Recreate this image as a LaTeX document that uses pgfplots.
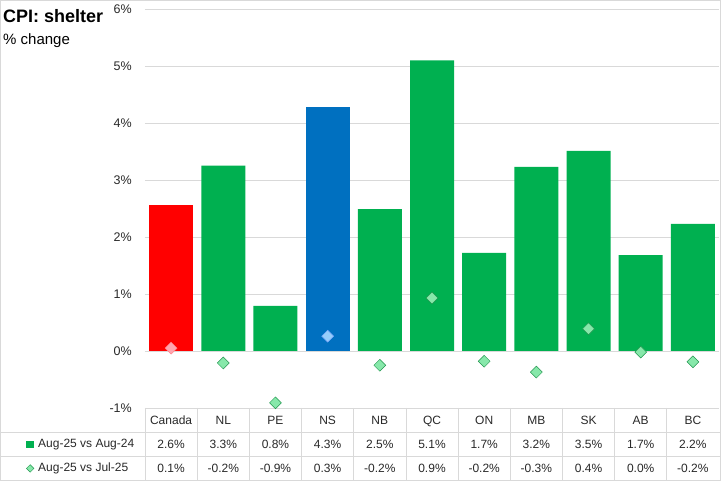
\documentclass[border=0pt]{standalone}
\usepackage{fontspec}
\setmainfont{Liberation Sans}
\usepackage{pgfplots}
\pgfplotsset{compat=1.18}

\definecolor{xlgreen}{RGB}{0,176,80}
\definecolor{xlblue}{RGB}{0,112,192}
\definecolor{xlred}{RGB}{255,0,0}
\definecolor{gridgray}{RGB}{217,217,217}
\definecolor{dmfill}{RGB}{135,232,170}
\definecolor{dmedge}{RGB}{35,150,80}
\definecolor{dmpink}{RGB}{255,165,175}
\definecolor{dmblue}{RGB}{150,205,250}
\definecolor{txt}{RGB}{40,40,40}

\begin{document}
\begin{tikzpicture}[x=1pt,y=1pt]
\useasboundingbox (0,0) rectangle (721,481);
\begin{axis}[
    at={(145pt,73pt)}, anchor=south west,
    scale only axis, width=574pt, height=399pt,
    xmin=-0.5, xmax=10.5, ymin=-1, ymax=6,
    clip=false,
    axis line style={draw=none},
    tick style={draw=none},
    ymajorgrids, grid style={gridgray, line width=0.75pt},
    ytick={-1,0,...,6},
    yticklabels={-1\%,0\%,1\%,2\%,3\%,4\%,5\%,6\%},
    yticklabel style={inner sep=0pt, anchor=east, xshift=-13pt,
        font=\fontsize{12.5}{14}\selectfont, text=txt},
    xtick={0,...,10},
    xticklabels={{Canada\\2.6\%\\0.1\%},{NL\\3.3\%\\-0.2\%},{PE\\0.8\%\\-0.9\%},
        {NS\\4.3\%\\0.3\%},{NB\\2.5\%\\-0.2\%},{QC\\5.1\%\\0.9\%},
        {ON\\1.7\%\\-0.2\%},{MB\\3.2\%\\-0.3\%},{SK\\3.5\%\\0.4\%},
        {AB\\1.7\%\\0.0\%},{BC\\2.2\%\\-0.2\%}},
    xticklabel style={align=center, inner sep=0pt, anchor=north, yshift=-7.6pt,
        font=\fontsize{12}{24}\selectfont, text=txt},
    legend style={at={(axis description cs:-0.2073,-0.0769)}, anchor=north west,
        draw=none, fill=none, inner sep=0pt, row sep=12.9pt, column sep=4pt,
        font=\fontsize{12}{14}\selectfont, text=txt,
        nodes={inner sep=0pt, text height=8.6pt, text depth=2.5pt},
        cells={anchor=west}},
]
% Aug-25 vs Aug-24
\addplot[ybar, bar width=44pt, bar shift=0pt, fill=xlgreen, draw=none,
    legend image code/.code={\fill[xlgreen] (0pt,-3.7pt) rectangle (7.5pt,3.7pt);}]
    coordinates {(1,3.25) (2,0.79) (4,2.49) (5,5.10) (6,1.72) (7,3.23) (8,3.51) (9,1.68) (10,2.23)};
\addlegendentry{Aug-25 vs Aug-24}
\addplot[ybar, bar width=44pt, bar shift=0pt, fill=xlred, draw=none, forget plot]
    coordinates {(0,2.56)};
\addplot[ybar, bar width=44pt, bar shift=0pt, fill=xlblue, draw=none, forget plot]
    coordinates {(3,4.28)};
% Aug-25 vs Jul-25
\addplot[only marks, mark=square*, mark size=4.2pt,
    mark options={rotate=45, fill=dmfill, draw=dmedge, line width=0.5pt},
    legend image code/.code={\fill[dmfill, draw=dmedge, line width=0.5pt]
        (0pt,0pt) -- (3.75pt,3.75pt) -- (7.5pt,0pt) -- (3.75pt,-3.75pt) -- cycle;}]
    coordinates {(1,-0.21) (2,-0.91) (4,-0.25) (5,0.93) (6,-0.18) (7,-0.37) (8,0.39) (9,-0.02) (10,-0.19)};
\addlegendentry{Aug-25 vs Jul-25}
\addplot[only marks, mark=square*, mark size=4.2pt, forget plot,
    mark options={rotate=45, fill=dmpink, draw=dmpink!80!red, line width=0.5pt}]
    coordinates {(0,0.05)};
\addplot[only marks, mark=square*, mark size=4.2pt, forget plot,
    mark options={rotate=45, fill=dmblue, draw=dmblue!80!blue, line width=0.5pt}]
    coordinates {(3,0.26)};
\end{axis}

% data table lines
\draw[gridgray, line width=0.75pt] (0,49) -- (720,49) (0,25) -- (720,25);
\foreach \k in {0,...,10}
    \draw[gridgray, line width=0.75pt] ({145+52.1818*\k},73) -- ({145+52.1818*\k},1);
% outer frame
\draw[gridgray, line width=1pt] (0.5,0.5) rectangle (720.5,480.5);

% titles
\node[anchor=west, inner sep=0pt, font=\bfseries\fontsize{18}{20}\selectfont, text=black]
    at (3,465) {CPI: shelter};
\node[anchor=base west, inner sep=0pt, font=\fontsize{15}{17}\selectfont, text=black]
    at (3,436) {\% change};
\end{tikzpicture}
\end{document}
